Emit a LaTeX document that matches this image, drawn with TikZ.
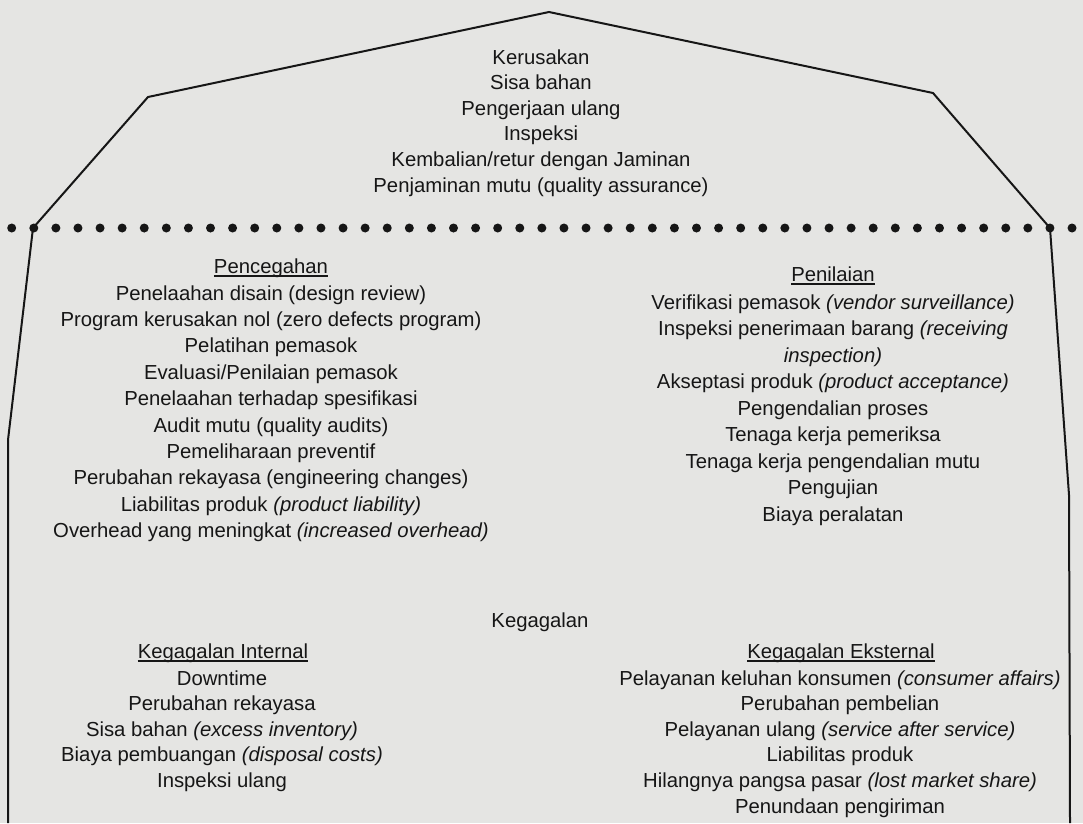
\documentclass[tikz,border=0pt]{standalone}
\usepackage{fontspec}
\setmainfont{Liberation Sans}
\definecolor{paper}{RGB}{229,229,227}
\definecolor{ink}{RGB}{22,22,22}
\begin{document}
\begin{tikzpicture}[x=1pt,y=-1pt,
  txt/.style={anchor=base, inner sep=0pt, text=ink, font=\fontsize{20.3}{24}\selectfont},
  outline/.style={draw=ink, line width=2pt, line join=miter},
  dotmark/.style={circle, fill=ink, inner sep=0pt, minimum size=9pt},
  uline/.style={draw=ink, line width=1.4pt}]
\fill[paper] (0,0) rectangle (1083,823);
\useasboundingbox (0,0) rectangle (1083,823);

% outline of the house shape
\coordinate (lb) at (8,823);
\coordinate (lk) at (8,440);
\coordinate (ld) at (33,228);
\coordinate (lr) at (148,97);
\coordinate (apex) at (549,12);
\coordinate (rr) at (933,93);
\coordinate (rd) at (1050,228);
\coordinate (rk) at (1069,495);
\coordinate (rb) at (1070,823);
\draw[outline] (lb) -- (lk) -- (ld) -- (lr) -- (apex) -- (rr) -- (rd) -- (rk) -- (rb);

% dotted separator
\foreach \k in {0,...,48}
  \node[dotmark] (dot\k) at (11.7+\k*22.09,228) {};

% top block
\foreach \t [count=\i from 0] in {Kerusakan, Sisa bahan, Pengerjaan ulang, Inspeksi,
  Kembalian/retur dengan Jaminan, Penjaminan mutu (quality assurance)}
  \node[txt] (top\i) at (541,64+\i*25.6) {\t};

% Pencegahan
\node[txt] (hpen) at (271,273) {Pencegahan};
\draw[uline] ([yshift=-3pt]hpen.base west) -- ([yshift=-3pt]hpen.base east);
\foreach \t [count=\i from 0] in {Penelaahan disain (design review),
  Program kerusakan nol (zero defects program), Pelatihan pemasok,
  Evaluasi/Penilaian pemasok, Penelaahan terhadap spesifikasi,
  Audit mutu (quality audits), Pemeliharaan preventif,
  Perubahan rekayasa (engineering changes),
  {Liabilitas produk \textit{(product liability)}},
  {Overhead yang meningkat \textit{(increased overhead)}}}
  \node[txt] (pc\i) at (271,300+\i*26.4) {\t};

% Penilaian
\node[txt] (hnil) at (833,281) {Penilaian};
\draw[uline] ([yshift=-3pt]hnil.base west) -- ([yshift=-3pt]hnil.base east);
\foreach \t [count=\i from 0] in {{Verifikasi pemasok \textit{(vendor surveillance)}},
  {Inspeksi penerimaan barang \textit{(receiving}}, {\textit{inspection)}},
  {Akseptasi produk \textit{(product acceptance)}}, Pengendalian proses,
  Tenaga kerja pemeriksa, Tenaga kerja pengendalian mutu, Pengujian,
  Biaya peralatan}
  \node[txt] (pn\i) at (833,309+\i*26.5) {\t};

% Kegagalan
\node[txt] (hgag) at (540,627) {Kegagalan};

\node[txt] (hint) at (223,658) {Kegagalan Internal};
\draw[uline] ([yshift=-3pt]hint.base west) -- ([yshift=-3pt]hint.base east);
\foreach \t [count=\i from 0] in {Downtime, Perubahan rekayasa,
  {Sisa bahan \textit{(excess inventory)}},
  {Biaya pembuangan \textit{(disposal costs)}}, Inspeksi ulang}
  \node[txt] (ki\i) at (222,685+\i*25.5) {\t};

\node[txt] (heks) at (841,658) {Kegagalan Eksternal};
\draw[uline] ([yshift=-3pt]heks.base west) -- ([yshift=-3pt]heks.base east);
\foreach \t [count=\i from 0] in {{Pelayanan keluhan konsumen \textit{(consumer affairs)}},
  Perubahan pembelian, {Pelayanan ulang \textit{(service after service)}},
  Liabilitas produk, {Hilangnya pangsa pasar \textit{(lost market share)}},
  Penundaan pengiriman}
  \node[txt] (ke\i) at (840,685+\i*25.6) {\t};
\end{tikzpicture}
\end{document}
